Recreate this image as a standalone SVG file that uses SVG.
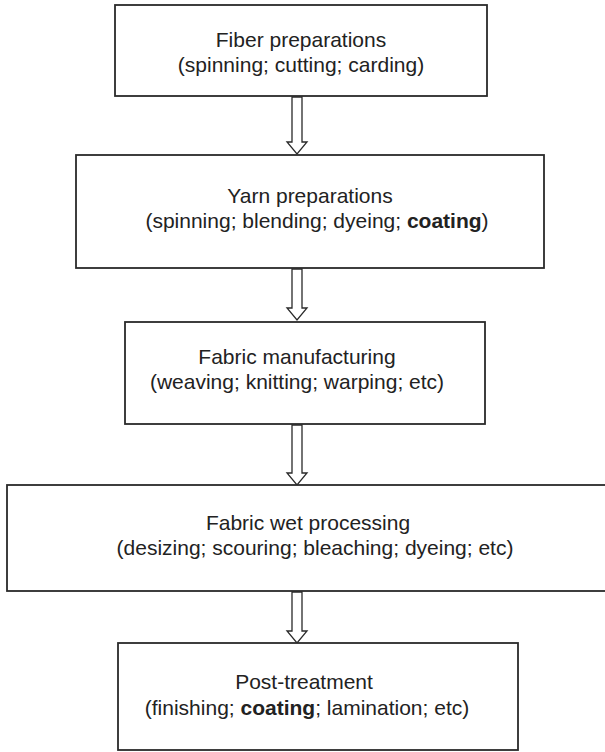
<svg xmlns="http://www.w3.org/2000/svg" width="605" height="752" viewBox="0 0 605 752">
<style>
.box{fill:#fff;stroke:#2a2a2a;stroke-width:1.8}
.arr{fill:#fff;stroke:#2a2a2a;stroke-width:1.3;stroke-linejoin:miter}
text{font-family:"Liberation Sans",Arial,sans-serif;font-size:21px;fill:#222;text-anchor:middle}
.b{font-weight:bold}
</style>
<rect width="605" height="752" fill="#fff"/>
<g id="connectors">
<path class="arr" d="M292,97 V142 H287 L297,154 L307,142 H302 V97 Z"/>
<path class="arr" d="M292,269 V308 H287 L297,320 L307,308 H302 V269 Z"/>
<path class="arr" d="M292,425 V473 H287 L297,485 L307,473 H302 V425 Z"/>
<path class="arr" d="M292,592 V631 H287 L297,643 L307,631 H302 V592 Z"/>
</g>
<g id="fiber">
<rect class="box" x="115" y="5" width="372" height="91"/>
<text x="301" y="47">Fiber preparations</text>
<text x="301" y="72">(spinning; cutting; carding)</text>
</g>
<g id="yarn">
<rect class="box" x="76" y="155" width="468" height="113"/>
<text x="310" y="203">Yarn preparations</text>
<text x="317" y="228">(spinning; blending; dyeing; <tspan class="b">coating</tspan>)</text>
</g>
<g id="fabric">
<rect class="box" x="125" y="322" width="360" height="102"/>
<text x="297" y="364">Fabric manufacturing</text>
<text x="297" y="389">(weaving; knitting; warping; etc)</text>
</g>
<g id="wet">
<rect class="box" x="7" y="485" width="602" height="106"/>
<text x="308" y="530">Fabric wet processing</text>
<text x="315" y="555">(desizing; scouring; bleaching; dyeing; etc)</text>
</g>
<g id="post">
<rect class="box" x="118" y="643" width="400" height="107"/>
<text x="304" y="689">Post-treatment</text>
<text x="307" y="715">(finishing; <tspan class="b">coating</tspan>; lamination; etc)</text>
</g>
</svg>
